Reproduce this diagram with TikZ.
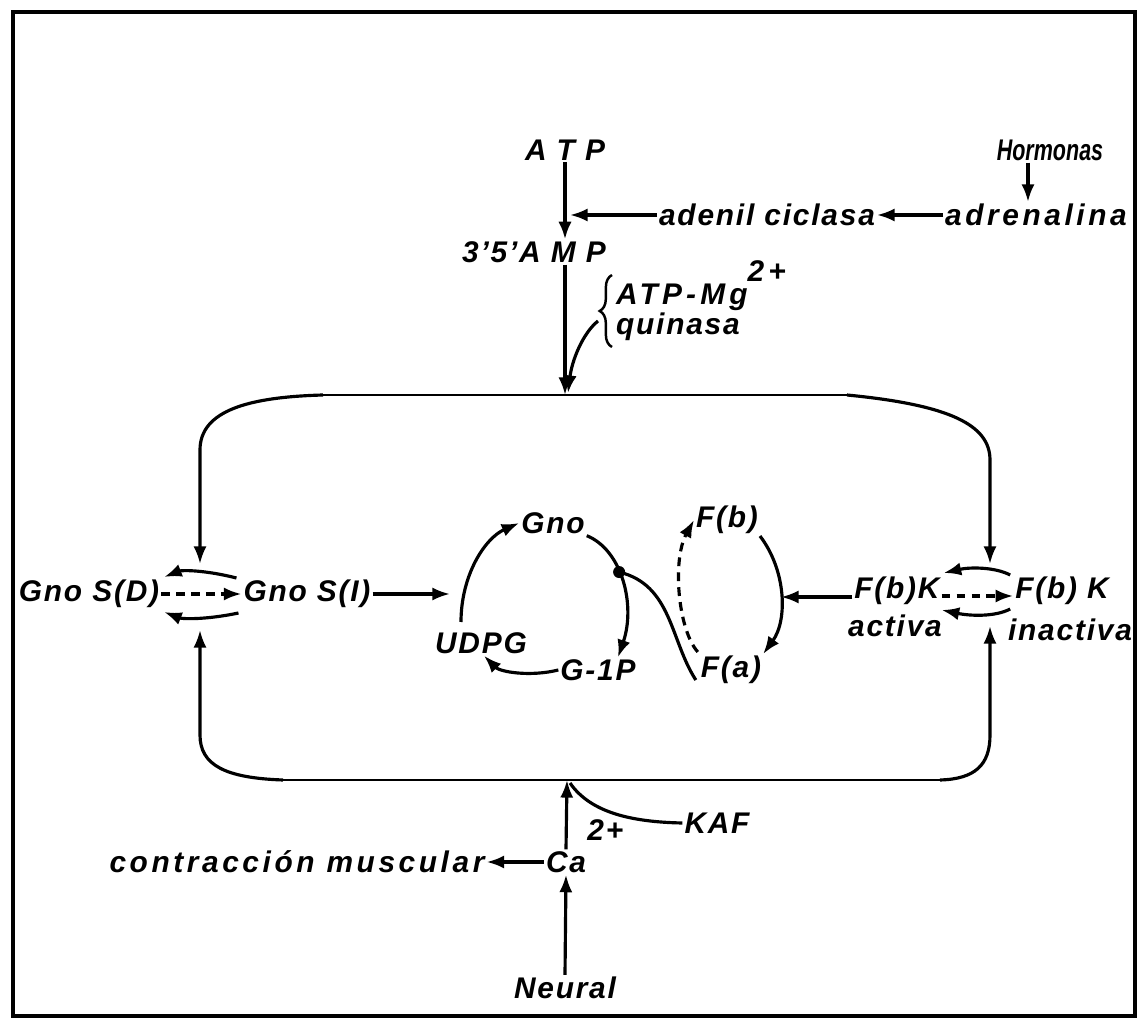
\documentclass[tikz,border=0pt]{standalone}
\usepackage{fontspec}
\setmainfont{Liberation Sans}[LetterSpace=6]
\usetikzlibrary{arrows.meta,decorations.pathreplacing,calc}
\begin{document}
\begin{tikzpicture}[x=0.02cm,y=-0.02cm,
  lbl/.style={inner sep=1pt, font=\fontsize{17}{20}\selectfont\bfseries\itshape},
  arr/.style={line width=1.8pt,-{Latex[length=10pt,width=7.5pt]}},
  ln/.style={line width=1.4pt},
  thk/.style={line width=1.8pt},
  dsh/.style={arr,dash pattern=on 5pt off 3.5pt}]
\useasboundingbox (0,0) rectangle (1137,1033);
\draw[line width=2.2pt] (13,12) rectangle (1135,1016);

% top labels
\node[lbl] (atp) at (565,150) {A T P};
\node[lbl] (horm) at (1050,150) {\addfontfeatures{LetterSpace=0}\scalebox{0.72}[1]{Hormonas}};
\node[lbl] (cicl) at (767,215) {adenil ciclasa};
\node[lbl] (adren) at (1036,215) {\addfontfeatures{LetterSpace=12}adrenalina};
\node[lbl] (amp) at (534,252) {3’5’A M P};
\node[lbl,anchor=base west] (atpmg) at (614,305) {\addfontfeatures{LetterSpace=14}ATP-Mg\raisebox{1.5ex}{2+}};
\node[lbl,anchor=base west] (quin) at (614,335) {quinasa};
\coordinate (top) at (565,395);
\coordinate (bot) at (567,780);

\draw[arr] (atp.south) -- (atp.south |- amp.north);
\draw[arr] (cicl.west) -- ($(atp.south |- cicl.west)+(5,0)$);
\draw[arr] (adren.west) -- (cicl.east);
\draw[arr] ($(horm.south)+(-22,0)$) -- ($(horm.south |- adren.north)+(-22,0)$);
\draw[arr] (amp.south -| top) -- (top);
\draw[ln,decorate,decoration={brace,amplitude=7pt}] (612,347) -- (612,275);
\draw[arr] (598,321) .. controls (583,333) and (572,360) .. ($(top)+(3,-2)$);

% loop
\draw[ln] (323,395) -- (847,395);
\draw[arr] (323,395) .. controls (250,397) and (200,410) .. (200,450) -- (200,564);
\draw[arr] (847,395) .. controls (950,405) and (990,425) .. (990,460) -- (990,564);
\draw[ln] (283,780) -- (940,780);
\draw[arr] (283,780) .. controls (225,778) and (200,765) .. (200,735) -- (200,630);
\draw[arr] (940,780) .. controls (975,779) and (990,765) .. (990,735) -- (990,626);

% left exchange
\node[lbl] (gsd) at (89,594) {Gno S(D)};
\node[lbl] (gsi) at (307,594) {Gno S(I)};
\draw[dsh] (gsd.east) -- (gsi.west);
\draw[arr] ($(gsi.west)+(-5,-16)$) .. controls (205,570) and (182,570) .. ($(gsd.east)+(3,-17)$);
\draw[arr] ($(gsi.west)+(-3,19)$) .. controls (205,620) and (182,619) .. ($(gsd.east)+(3,18)$);

% centre cycle
\node[lbl] (gno) at (553,523) {Gno};
\node[lbl] (fb) at (727,520) {F(b)};
\node[lbl] (udpg) at (481,643) {UDPG};
\node[lbl] (g1p) at (598,670) {G-1P};
\node[lbl] (fa) at (731,670) {F(a)};
\coordinate (gin) at (450,594);
\draw[arr] (gsi.east) -- (gin);
\draw[arr] (461,622) .. controls (461,575) and (485,538) .. (gno.west);
\draw[arr] (gno.south east) .. controls (622,550) and (636,605) .. coordinate[pos=0.42] (dot) ($(g1p.north)+(20,0)$);
\draw[arr] (g1p.west) .. controls (530,677) and (500,672) .. ($(udpg.south)+(3,0)$);
\draw[thk] ($(fa.south west)+(-3,-6)$) .. controls (670,640) and (672,585) .. (dot);
\fill (dot) circle (6);
\draw[dsh] ($(fa.north west)+(-1,-2)$) .. controls (678,630) and (672,560) .. (fb.west);
\coordinate (fin) at (781,597);
\draw[arr] (fb.south east) .. controls (786,570) and (788,620) .. (fa.north east);

% right exchange
\node[lbl] (fbka) at (897,591) {F(b)K};
\node[lbl] (act) at (895,626) {activa};
\node[lbl] (fbki) at (1062,591) {F(b) K};
\node[lbl] (inact) at (1070,630) {inactiva};
\draw[arr] ($(fbka.west)+(0,6)$) -- (fin);
\draw[dsh] ($(fbka.east)+(0,5)$) -- ($(fbki.west)+(0,5)$);
\draw[arr] ($(fbki.west)+(-3,-16)$) .. controls (995,567) and (970,567) .. ($(fbka.east)+(2,-18)$);
\draw[arr] ($(fbki.west)+(-3,18)$) .. controls (995,617) and (970,616) .. ($(fbka.east)+(0,19)$);

% bottom
\node[lbl] (kaf) at (717,823) {KAF};
\node[lbl] (ca) at (566,862) {Ca};
\node[lbl,anchor=south west,inner sep=0pt] (casup) at ($(ca.north east)+(-1,-8)$) {2+};
\node[lbl] (contr) at (297,862) {\addfontfeatures{LetterSpace=12}contracción muscular};
\node[lbl] (neural) at (565,988) {Neural};
\draw[arr] (ca.north) -- (bot);
\draw[thk] (kaf.west) .. controls (630,822) and (590,812) .. ($(bot)+(3,3)$);
\draw[arr] (ca.west) -- (contr.east);
\draw[arr] (neural.north) -- (ca.south);
\end{tikzpicture}
\end{document}
